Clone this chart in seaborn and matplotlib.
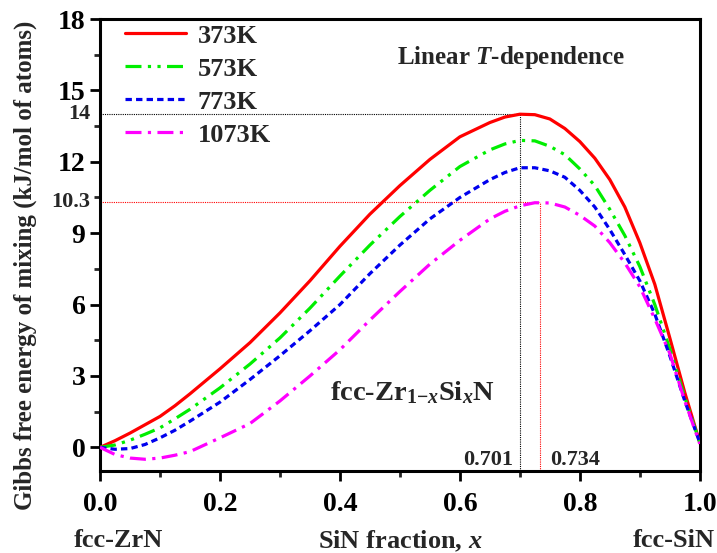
import matplotlib
matplotlib.use("Agg")
import matplotlib.pyplot as plt
import seaborn as sns
import pandas as pd
from matplotlib.ticker import MultipleLocator

sns.set_theme(style="white")
plt.rcParams["font.family"] = ["Liberation Serif", "DejaVu Serif"]
plt.rcParams["font.weight"] = "bold"
plt.rcParams["mathtext.fontset"] = "custom"
plt.rcParams["mathtext.rm"] = "Liberation Serif:bold"
plt.rcParams["mathtext.it"] = "Liberation Serif:bold:italic"
plt.rcParams["mathtext.bf"] = "Liberation Serif:bold"

# ---- data ----
x_frac = [0.0, 0.025, 0.05, 0.075, 0.1, 0.125, 0.15, 0.2, 0.25, 0.3, 0.35, 0.4, 0.45, 0.5,
          0.55, 0.6, 0.65, 0.675, 0.7, 0.725, 0.75, 0.775, 0.8, 0.825, 0.85, 0.875,
          0.9, 0.925, 0.95, 0.975, 1.0]
g_373 = [0.0, 0.28, 0.6, 0.95, 1.3, 1.75, 2.25, 3.3, 4.4, 5.65, 7.0, 8.45, 9.8, 11.0,
         12.1, 13.05, 13.65, 13.88, 14.0, 13.98, 13.8, 13.4, 12.85, 12.15, 11.25, 10.1,
         8.6, 6.85, 4.6, 2.3, 0.2]
g_573 = [0.0, 0.1, 0.3, 0.55, 0.82, 1.2, 1.6, 2.5, 3.5, 4.6, 5.85, 7.2, 8.5, 9.7,
         10.8, 11.8, 12.5, 12.75, 12.9, 12.88, 12.65, 12.3, 11.7, 11.0, 10.0, 8.9,
         7.6, 6.0, 4.15, 2.1, 0.2]
g_773 = [0.0, -0.08, -0.05, 0.12, 0.4, 0.72, 1.1, 1.9, 2.85, 3.85, 4.9, 6.0, 7.3, 8.5,
         9.6, 10.5, 11.25, 11.55, 11.75, 11.75, 11.62, 11.35, 10.8, 10.1, 9.15, 8.1,
         7.0, 5.6, 3.85, 1.95, 0.2]
g_1073 = [0.0, -0.3, -0.45, -0.5, -0.45, -0.33, -0.18, 0.4, 1.0, 1.95, 3.0, 4.1, 5.35, 6.55,
          7.7, 8.7, 9.6, 9.92, 10.15, 10.28, 10.27, 10.1, 9.75, 9.3, 8.6, 7.75,
          6.75, 5.4, 3.95, 1.95, 0.15]
labels = ["373K", "573K", "773K", "1073K"]
colors = ["#ff0000", "#00ee00", "#0000ee", "#ff00ff"]
dashes = [(None, None), (5, 2, 1, 2, 1, 2), (2, 1.3), (5, 2, 1, 2)]

peak_x = [0.701, 0.734]
peak_y = [14.0, 10.3]
peak_txt = ["0.701", "0.734"]
peak_col = ["black", "red"]

x_ticks = [0.0, 0.2, 0.4, 0.6, 0.8, 1.0]
y_ticks = [0, 3, 6, 9, 12, 15, 18]

df = pd.DataFrame({"x": x_frac * 4,
                   "G": g_373 + g_573 + g_773 + g_1073,
                   "T": sum([[l] * len(x_frac) for l in labels], [])})

fig = plt.figure(figsize=(7.17, 5.53), dpi=100)
ax = fig.add_axes([0.1395, 0.148, 0.8365, 0.8176])

for lab, col, d in zip(labels, colors, dashes):
    sub = df[df["T"] == lab]
    sns.lineplot(data=sub, x="x", y="G", ax=ax, color=col, lw=2.3, label=lab,
                 sort=False, zorder=3)
    line = ax.get_lines()[-1]
    if d[0] is not None:
        line.set_dashes(d)

# peak guide lines
ylo = -1.0
for px, py, c in zip(peak_x, peak_y, peak_col):
    ax.plot([0, px], [py, py], ls=(0, (1, 1)), color=c, lw=0.8, zorder=2)
    ax.plot([px, px], [ylo, py], ls=(0, (1, 1)), color=c, lw=0.8, zorder=2)

ax.set_xlim(0, 1.0)
ax.set_ylim(ylo, 18)
ax.set_xticks(x_ticks)
ax.set_xticklabels([f"{v:.1f}" for v in x_ticks])
ax.set_yticks(y_ticks)
ax.xaxis.set_minor_locator(MultipleLocator(0.1))
ax.yaxis.set_minor_locator(MultipleLocator(1.5))
ax.tick_params(axis="both", which="major", direction="out", length=7, width=2,
               labelsize=20, colors="black", bottom=True, left=True, top=False, right=False)
ax.tick_params(axis="x", which="major", pad=8)
ax.tick_params(axis="both", which="minor", direction="out", length=4, width=2,
               bottom=True, left=True, top=False, right=False)
for lbl in ax.get_xticklabels() + ax.get_yticklabels():
    lbl.set_fontweight("bold")
for s in ax.spines.values():
    s.set_linewidth(2.2)
    s.set_color("black")
    s.set_visible(True)

# extra y labels 14 and 10.3
for py in peak_y:
    txt = "14" if py == 14.0 else "10.3"
    ax.text(-0.016, py, txt, transform=ax.get_yaxis_transform(), ha="right", va="center",
            fontsize=16, fontweight="bold")

ax.set_ylabel("Gibbs free energy of mixing (kJ/mol of atoms)", fontsize=18,
              fontweight="bold")
ax.yaxis.set_label_coords(-0.105, 0.455)
ax.set_xlabel(r"SiN fraction, $\mathit{x}$", fontsize=19, fontweight="bold")
ax.xaxis.set_label_coords(0.5, -0.128)
ax.text(0.03, -0.168, "fcc-ZrN", transform=ax.transAxes, ha="center", va="baseline",
        fontsize=19, fontweight="bold")
ax.text(1.025, -0.168, "fcc-SiN", transform=ax.transAxes, ha="right", va="baseline",
        fontsize=19, fontweight="bold")

ax.text(0.685, 16.4, r"Linear $\mathit{T}$-dependence", ha="center", va="center",
        fontsize=18, fontweight="bold")
ax.text(0.383, 2.3, r"fcc-Zr$_{1\mathrm{-}x}$Si$_{x}$N", ha="left", va="center",
        fontsize=20.5, fontweight="bold")
ax.text(peak_x[0] - 0.013, -0.55, peak_txt[0], ha="right", va="center", fontsize=16,
        fontweight="bold")
ax.text(peak_x[1] + 0.016, -0.55, peak_txt[1], ha="left", va="center", fontsize=16,
        fontweight="bold")

ax.legend(loc="upper left", bbox_to_anchor=(0.024, 1.012), frameon=False,
          handlelength=2.3, handletextpad=0.45, labelspacing=0.36, borderaxespad=0,
          prop={"weight": "bold", "size": 19})

fig.savefig("out.png", dpi=100)
